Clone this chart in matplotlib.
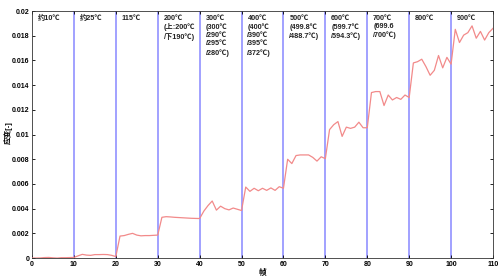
import matplotlib
matplotlib.use("Agg")
import matplotlib.pyplot as plt
from matplotlib.ticker import FixedLocator, FixedFormatter

plt.rcParams['font.family'] = ['Liberation Sans', 'Noto Sans CJK SC', 'DejaVu Sans']

frames = list(range(0, 111))
strain = [
    0.0, 0.0, 0.00001, 0.00004, 0.00005, 0.00002, 0.0, 0.00003, 0.00003, 0.00004,
    0.00005, 0.00018, 0.00030, 0.00024, 0.00022, 0.00028, 0.00028, 0.00029, 0.00028, 0.00022,
    0.00012, 0.00178, 0.00182, 0.00192, 0.00200, 0.00186, 0.00180, 0.00182, 0.00182, 0.00184,
    0.00186, 0.00330, 0.00335, 0.00333, 0.00330, 0.00328, 0.00326, 0.00324, 0.00322, 0.00321,
    0.00320, 0.00380, 0.00425, 0.00462, 0.00388, 0.00420, 0.00400, 0.00390, 0.00405, 0.00395,
    0.00385, 0.00575, 0.00540, 0.00565, 0.00545, 0.00565, 0.00548, 0.00568, 0.00548, 0.00578,
    0.00565, 0.00800, 0.00765, 0.00830, 0.00835, 0.00835, 0.00835, 0.00815, 0.00785, 0.00820,
    0.00805, 0.01040, 0.01080, 0.01105, 0.00985, 0.01060, 0.01050, 0.01060, 0.01100, 0.01055,
    0.01055, 0.01340, 0.01348, 0.01348, 0.01235, 0.01320, 0.01280, 0.01300, 0.01285, 0.01320,
    0.01300, 0.01580, 0.01590, 0.01610, 0.01550, 0.01480, 0.01520, 0.01640, 0.01540, 0.01625,
    0.01570, 0.01852, 0.01745, 0.01805, 0.01825, 0.01880, 0.01780, 0.01835, 0.01765, 0.01825,
    0.01860,
]

boundaries = [10, 20, 30, 40, 50, 60, 70, 80, 90, 100]
seg_starts = [0, 10, 20, 30, 40, 50, 60, 70, 80, 90, 100]
seg_labels = [
    "约10℃",
    "约25℃",
    "115℃",
    "200℃\n(上:200℃\n/下190℃)",
    "300℃\n(300℃\n/290℃\n/295℃\n/280℃)",
    "400℃\n(400℃\n/390℃\n/395℃\n/372℃)",
    "500℃\n(499.8℃\n/488.7℃)",
    "600℃\n(599.7℃\n/594.3℃)",
    "700℃\n(699.6\n/700℃)",
    "800℃",
    "900℃",
]

xticks = [0, 10, 20, 30, 40, 50, 60, 70, 80, 90, 100, 110]
xticklabels = ["0", "10", "20", "30", "40", "50", "60", "70", "80", "90", "100", "110"]
yticks = [0, 0.002, 0.004, 0.006, 0.008, 0.01, 0.012, 0.014, 0.016, 0.018, 0.02]
yticklabels = ["0", "0.002", "0.004", "0.006", "0.008", "0.01", "0.012", "0.014", "0.016", "0.018", "0.02"]

fig = plt.figure(figsize=(5.0, 2.76), dpi=100)
ax = fig.add_axes([0.064, 0.065, 0.922, 0.895])

for b in boundaries:
    ax.axvline(b, color="#9a9aff", lw=1.3, zorder=1)

ax.plot(frames, strain, color="#f28a8a", lw=0.9, zorder=3)

for s, lab in zip(seg_starts, seg_labels):
    ax.text(s + 1.4, 0.0197, lab, fontsize=5.2, fontweight="bold",
            va="top", ha="left", linespacing=1.25, color="#222222", zorder=4)

ax.set_xlim(0, 110)
ax.set_ylim(0, 0.02)
ax.xaxis.set_major_locator(FixedLocator(xticks))
ax.xaxis.set_major_formatter(FixedFormatter(xticklabels))
ax.yaxis.set_major_locator(FixedLocator(yticks))
ax.yaxis.set_major_formatter(FixedFormatter(yticklabels))
ax.tick_params(direction="in", length=2.5, width=0.6, labelsize=5.0,
               top=True, right=True, pad=2)
for lab in ax.get_xticklabels() + ax.get_yticklabels():
    lab.set_fontweight("bold")
for sp in ax.spines.values():
    sp.set_linewidth(0.6)
    sp.set_color("#333333")

fig.text(0.016, 0.52, "应变[-]", fontsize=5.5, fontweight="bold",
         rotation=90, ha="center", va="center")
ax.set_xlabel("帧", fontsize=5.5, fontweight="bold", labelpad=1)

fig.savefig("out.png", dpi=100)
